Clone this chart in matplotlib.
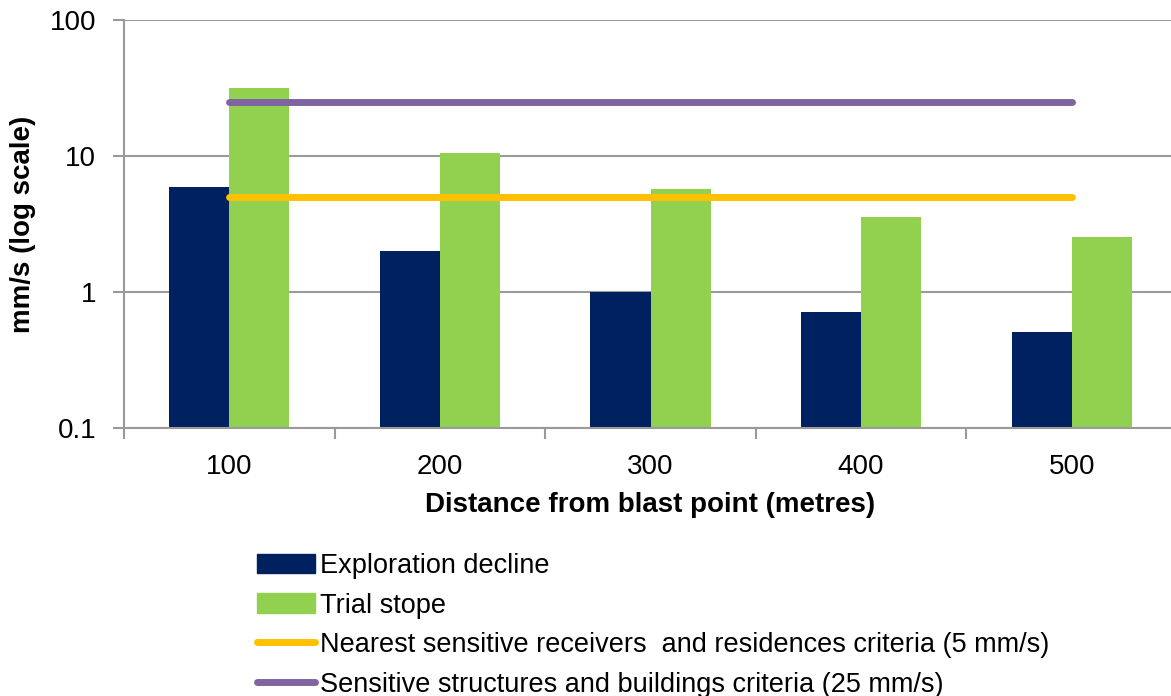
import numpy as np
import matplotlib.pyplot as plt
from matplotlib.lines import Line2D
from matplotlib.patches import Patch

plt.rcParams['font.family'] = ['Liberation Sans', 'DejaVu Sans']

distances = ["100", "200", "300", "400", "500"]
exploration_decline = [5.9, 2.0, 1.0, 0.71, 0.51]
trial_stope = [31.5, 10.6, 5.7, 3.55, 2.55]
receivers_criteria = 5
structures_criteria = 25

navy = "#00215F"
green = "#92D050"
yellow = "#FFC000"
purple = "#8064A2"
grid_grey = "#9a9a9a"

fig = plt.figure(figsize=(11.71, 6.96), dpi=100)
ax = fig.add_axes([124 / 1171, 1 - 428 / 696, 1053 / 1171, 408 / 696])

x = np.arange(len(distances))
w = 0.285
ax.bar(x - w / 2, exploration_decline, w, color=navy, zorder=3, label="Exploration decline")
ax.bar(x + w / 2, trial_stope, w, color=green, zorder=3, label="Trial stope")
ax.plot([x[0], x[-1]], [receivers_criteria] * 2, color=yellow, lw=5,
        solid_capstyle="round", zorder=4)
ax.plot([x[0], x[-1]], [structures_criteria] * 2, color=purple, lw=5,
        solid_capstyle="round", zorder=4)

ax.set_yscale("log")
ax.set_ylim(0.1, 100)
ax.set_xlim(-0.5, len(distances) - 0.5)
ax.set_yticks([0.1, 1, 10, 100])
ax.set_yticklabels(["0.1", "1", "10", "100"])
ax.yaxis.set_minor_locator(plt.NullLocator())
ax.set_xticks(x)
ax.set_xticklabels(distances)
ax.set_xticks(np.arange(-0.5, len(distances)), minor=True)

ax.tick_params(axis="y", which="major", length=8, width=1.5, color=grid_grey,
               labelsize=20, pad=12)
ax.tick_params(axis="x", which="major", length=0, labelsize=20, pad=19)
ax.tick_params(axis="x", which="minor", length=8, width=1.5, color=grid_grey)

ax.grid(axis="y", color=grid_grey, lw=1.5, zorder=0)
for side in ["top", "right"]:
    ax.spines[side].set_visible(False)
for side in ["left", "bottom"]:
    ax.spines[side].set_color(grid_grey)
    ax.spines[side].set_linewidth(1.5)
    ax.spines[side].set_zorder(5)

ax.set_ylabel("mm/s (log scale)", fontsize=20, fontweight="bold", labelpad=10)
ax.set_xlabel("Distance from blast point (metres)", fontsize=20,
              fontweight="bold", labelpad=8)

handles = [
    Patch(color=navy),
    Patch(color=green),
    Line2D([], [], color=yellow, lw=5, solid_capstyle="round"),
    Line2D([], [], color=purple, lw=5, solid_capstyle="round"),
]
labels = [
    "Exploration decline",
    "Trial stope",
    "Nearest sensitive receivers  and residences criteria (5 mm/s)",
    "Sensitive structures and buildings criteria (25 mm/s)",
]
fig.legend(handles, labels, loc="upper left",
           bbox_to_anchor=(257 / 1171, 1 - 553 / 696), frameon=False,
           fontsize=19.5, handlelength=2.15, handleheight=0.75, handletextpad=0.18,
           labelspacing=0.5, borderpad=0, borderaxespad=0)

fig.savefig("out.png", dpi=100)
